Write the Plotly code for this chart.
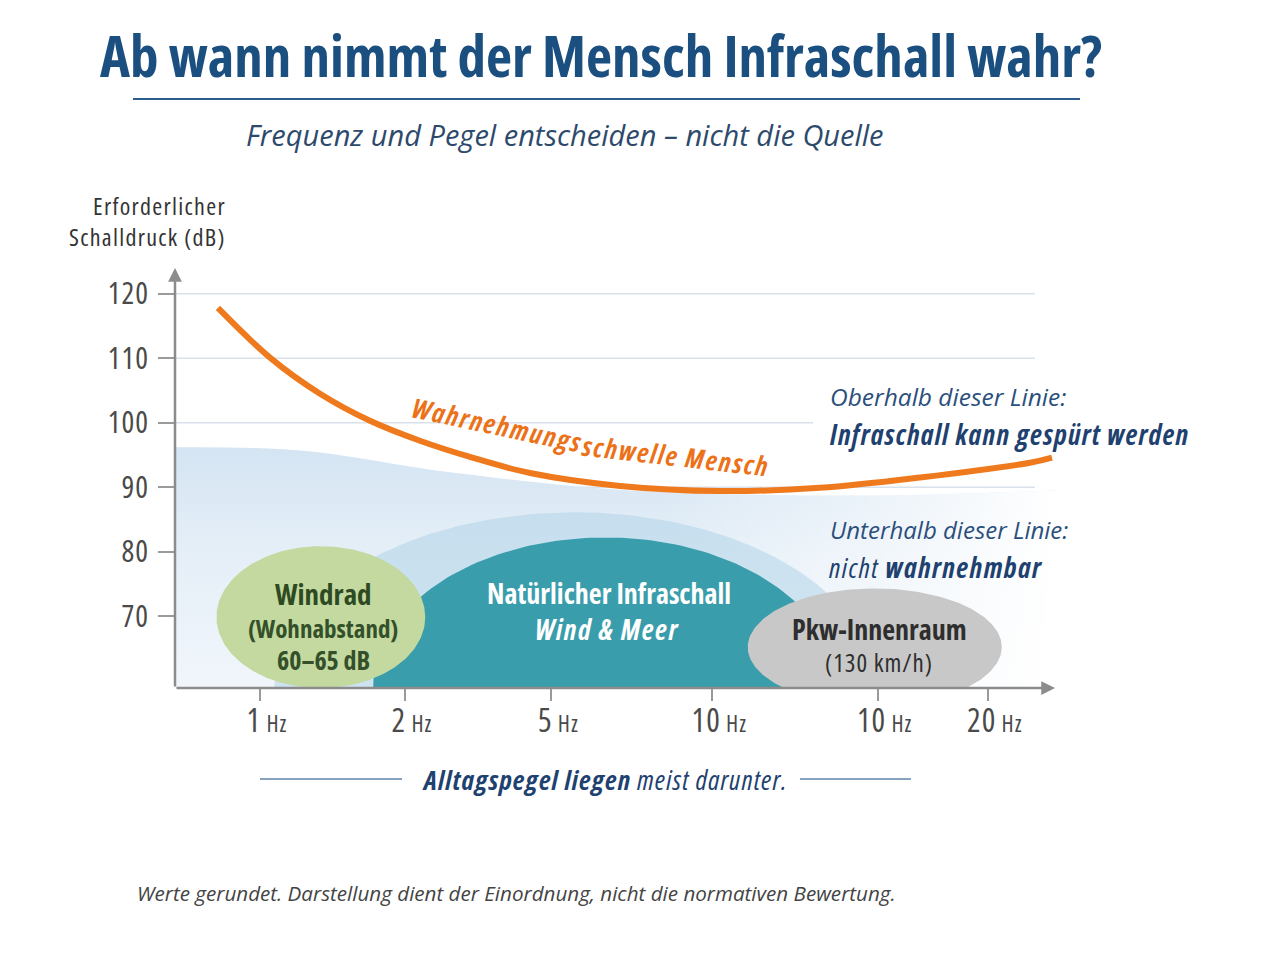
import numpy as np
import plotly.graph_objects as go

# ---------------- data ----------------
tick_labels = ["1", "2", "5", "10", "10", "20"]          # frequency tick labels (Hz)
tick_pos = [1.0, 2.0, 3.01, 4.12, 5.26, 6.02]           # schematic position on the frequency axis
y_ticks = [70, 80, 90, 100, 110, 120]                   # dB ticks

# perception threshold (orange curve)
threshold_x = [0.71, 1.069, 1.414, 1.759, 2.103, 2.448, 2.862, 3.483, 4.172, 4.862,
               5.552, 6.31, 6.462]
threshold_db = [117.8, 110.1, 104.5, 100.3, 97.2, 94.7, 92.2, 90.2, 89.4, 89.9,
                91.5, 93.8, 94.6]

# everyday level zone (pale band), upper edge
band_x = [0.414, 1.28, 2.31, 3.48, 4.5, 5.5, 6.483]
band_db = [96.2, 95.7, 92.3, 89.6, 88.8, 88.8, 89.5]

# source regions: centre position, half width, centre dB, half dB range
source_names = ["Natur (Hof)", "Natur", "Windrad", "Pkw"]
source_cx = [3.17, 3.38, 1.42, 5.24]
source_rx = [2.07, 1.60, 0.72, 0.876]
source_cy = [58.85, 58.85, 69.85, 65.2]
source_ry = [27.25, 23.35, 11.0, 9.1]

X_RANGE = [0.414, 6.483]
Y_RANGE = [58.85, 124.0]

# ---------------- styling helpers ----------------
FONT = "Open Sans, Noto Sans, sans-serif"
L, R, T, B = 175, 1055, 268, 688
W, H = 1263, 963


def c(s, st="condensed", ls=0):
    style = f"font-stretch:{st}"
    if ls:
        style += f";letter-spacing:{ls}px"
    return f"<span style='{style}'>{s}</span>"


def xp(px):
    return (px - L) / (R - L)


def yp(py):
    return (B - py) / (B - T)


fig = go.Figure()

# pale everyday band (vertical gradient) + fade-out towards the right
fig.add_trace(go.Scatter(
    x=band_x, y=band_db, mode="lines", fill="tozeroy", line=dict(width=0, shape="spline"),
    fillcolor="rgba(220,234,246,0.8)",
    fillgradient=dict(type="vertical", start=Y_RANGE[0], stop=max(band_db), colorscale=[
        [0, "rgba(240,245,251,0.95)"], [0.55, "rgba(228,238,247,0.95)"],
        [1, "rgba(210,227,242,0.95)"]]),
    hoverinfo="skip", showlegend=False))
fig.add_trace(go.Scatter(
    x=band_x, y=band_db, mode="lines", fill="tozeroy", line=dict(width=0, shape="spline"),
    fillcolor="rgba(255,255,255,0)",
    fillgradient=dict(type="horizontal", start=X_RANGE[0], stop=X_RANGE[1], colorscale=[
        [0, "rgba(255,255,255,0)"], [0.55, "rgba(255,255,255,0)"],
        [0.8, "rgba(255,255,255,0.45)"], [1, "rgba(255,255,255,1)"]]),
    hoverinfo="skip", showlegend=False))

t = np.linspace(0, 2 * np.pi, 240)
fills = ["rgba(176,211,232,0.55)", "#3a9dac", "#c3d99f", "#c8c8c8"]
for i in range(len(source_names)):
    ex = source_cx[i] + source_rx[i] * np.cos(t)
    ey = source_cy[i] + source_ry[i] * np.sin(t)
    fig.add_trace(go.Scatter(
        x=ex, y=ey, mode="lines", fill="toself", line=dict(width=0),
        fillcolor=fills[i], hoverinfo="skip", showlegend=False))

# threshold curve
fig.add_trace(go.Scatter(
    x=threshold_x, y=threshold_db, mode="lines",
    line=dict(color="#ef7a1e", width=6, shape="spline", smoothing=1.0),
    hoverinfo="skip", showlegend=False))

# gridlines
shapes = []
for v in y_ticks:
    x1 = xp(813) if v in (100, 80) else xp(1035)
    shapes.append(dict(type="line", xref="paper", yref="y", x0=0, x1=x1, y0=v, y1=v,
                       line=dict(color="#d9e2ec", width=1.5), layer="below"))
# rules: under title & around bottom note
shapes.append(dict(type="line", xref="paper", yref="paper", x0=xp(133), x1=xp(1080),
                   y0=yp(99), y1=yp(99), line=dict(color="#2c5d8c", width=2)))
shapes.append(dict(type="line", xref="paper", yref="paper", x0=xp(260), x1=xp(402),
                   y0=yp(779), y1=yp(779), line=dict(color="#5f83a8", width=1.5)))
shapes.append(dict(type="line", xref="paper", yref="paper", x0=xp(800), x1=xp(911),
                   y0=yp(779), y1=yp(779), line=dict(color="#5f83a8", width=1.5)))

ann = []


def text(px, py, s, size, color, xanchor="center", angle=0, st="condensed", ls=0):
    ann.append(dict(xref="paper", yref="paper", x=xp(px), y=yp(py), text=c(s, st, ls),
                    showarrow=False, xanchor=xanchor, yanchor="middle", textangle=angle,
                    font=dict(family=FONT, size=size, color=color)))


# axis arrows
ann.append(dict(xref="paper", yref="paper", x=0, y=1.0, ax=0, ay=B - T, axref="pixel",
                ayref="pixel", text="", showarrow=True, arrowhead=2, arrowsize=1.1,
                arrowwidth=2.5, arrowcolor="#8c8c8c"))
ann.append(dict(xref="paper", yref="paper", x=1.0, y=0, ax=-(R - L), ay=0, text="",
                showarrow=True, arrowhead=2, arrowsize=1.1, arrowwidth=2.5,
                arrowcolor="#8c8c8c"))

NO = "normal"
text(601, 55, "<b>Ab wann nimmt der Mensch Infraschall wahr?</b>", 57, "#1b4f80")
text(565, 134, "<i>Frequenz und Pegel entscheiden – nicht die Quelle</i>", 29, "#2d4a6c", st=NO)
text(228, 205, "Erforderlicher", 24, "#333333", xanchor="right", ls=1.3)
text(228, 236, "Schalldruck (dB)", 24, "#333333", xanchor="right", ls=1.3)

# threshold label following the curve (two pieces with different angles)
text(497, 424, "<b><i>Wahrnehmungs</i></b>", 27, "#ec7219", angle=12, ls=1.8)
text(675, 455, "<b><i>schwelle Mensch</i></b>", 27, "#ec7219", angle=6.5, ls=1.8)

text(828, 396, "<i>Oberhalb dieser Linie:</i>", 24.5, "#2a4f7c", xanchor="left", st=NO)
text(827, 434, "<b><i>Infraschall kann gespürt werden</i></b>", 28, "#1e416f",
     xanchor="left", ls=1.2)
text(828, 529, "<i>Unterhalb dieser Linie:</i>", 24, "#2a4f7c", xanchor="left", st=NO)
text(827, 567, "<i>nicht <b>wahrnehmbar</b></i>", 28, "#1e416f", xanchor="left", ls=1.4)

text(323, 593, "<b>Windrad</b>", 29, "#2e4a22")
text(323, 628, "<b>(Wohnabstand)</b>", 25, "#33502a")
text(323, 660, "<b>60–65 dB</b>", 26, "#33502a")
text(609, 593, "<b>Natürlicher Infraschall</b>", 28, "#ffffff")
text(607, 629, "<b><i>Wind &amp; Meer</i></b>", 28, "#ffffff", ls=1.5)
text(879, 629, "<b>Pkw-Innenraum</b>", 28, "#2e2e2e")
text(879, 662, "(130 km/h)", 25, "#2e2e2e", ls=1.0)

text(605, 779, "<b><i>Alltagspegel liegen</i></b><i> meist darunter.</i>", 27.5, "#1e416f", ls=1.1)
text(135, 893, "<i>Werte gerundet. Darstellung dient der Einordnung, nicht die normativen Bewertung.</i>",
     20.6, "#444444", xanchor="left", st=NO)

fig.update_layout(
    width=W, height=H,
    margin=dict(l=L, r=W - R, t=T, b=H - B),
    paper_bgcolor="white", plot_bgcolor="rgba(0,0,0,0)",
    shapes=shapes, annotations=ann, showlegend=False,
    xaxis=dict(range=X_RANGE, showgrid=False, zeroline=False, showline=False,
               tickmode="array", tickvals=tick_pos,
               ticktext=[c(f"{s}<span style='font-size:23px'> Hz</span>", ls=1) for s in tick_labels],
               ticks="outside", ticklen=12, tickwidth=1.5, tickcolor="#9a9a9a",
               ticklabelstandoff=-7, ticklabelshift=7,
               tickfont=dict(family=FONT, size=32, color="#4a4a4a"), fixedrange=True),
    yaxis=dict(range=Y_RANGE, showgrid=False, zeroline=False, showline=False,
               tickmode="array", tickvals=y_ticks, ticktext=[c(str(v), ls=1) for v in y_ticks],
               ticks="outside", ticklen=16,
               tickwidth=1.5, tickcolor="#9a9a9a", ticklabelstandoff=3,
               tickfont=dict(family=FONT, size=30, color="#4a4a4a"), fixedrange=True),
)

fig.write_html("out.html")
